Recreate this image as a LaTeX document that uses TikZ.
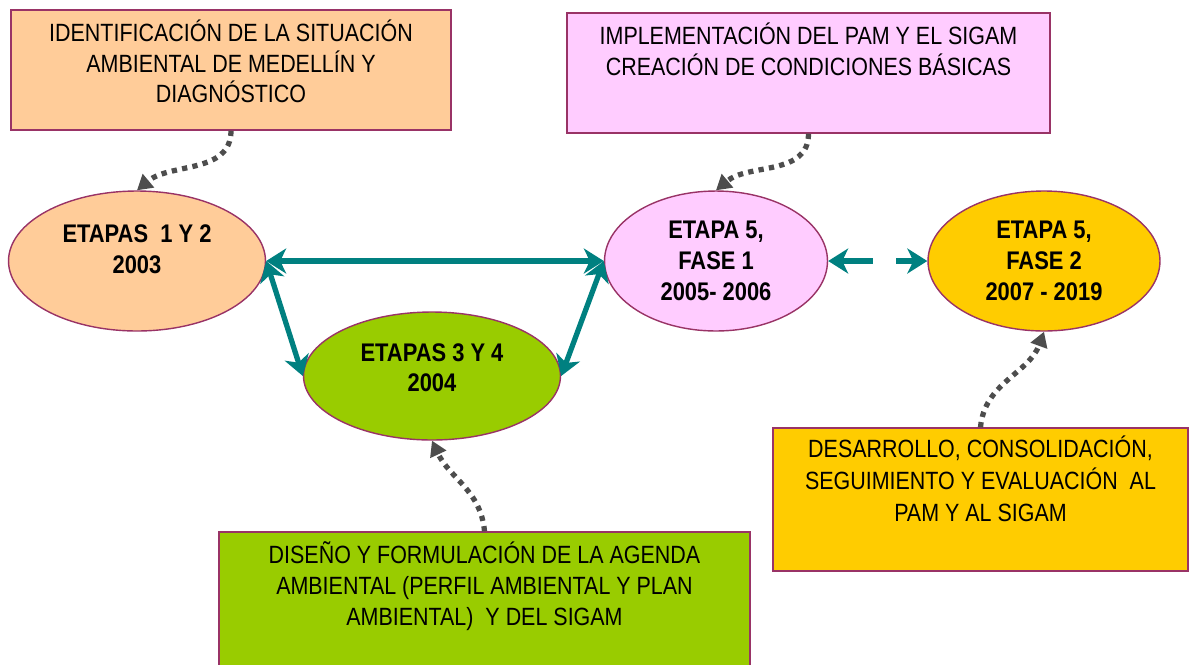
\documentclass[tikz,border=0pt]{standalone}
\usepackage{fontspec}
\setmainfont{Liberation Sans}[FakeStretch=0.86]
\newfontfamily\etapafont{Liberation Sans}[FakeStretch=0.86]
\usetikzlibrary{shapes.geometric,arrows.meta,positioning}

\definecolor{naranja}{HTML}{FFCC99}
\definecolor{rosado}{HTML}{FFCCFF}
\definecolor{verde}{HTML}{99CC00}
\definecolor{amarillo}{HTML}{FFCC00}
\definecolor{borde}{HTML}{993366}
\definecolor{flecha}{HTML}{008080}
\definecolor{gris}{HTML}{4D4D4D}

\tikzset{
  caja/.style={draw=borde, line width=0.8pt, rectangle, inner sep=0pt},
  textocaja/.style={font=\fontsize{14.2}{17.5}\selectfont, align=center, inner sep=0pt},
  etapa/.style={draw=borde, line width=0.8pt, ellipse, inner sep=0pt, align=center,
    font=\etapafont\fontsize{14.5}{17.6}\selectfont\bfseries},
  doble/.style={draw=flecha, line width=3pt,
    {Stealth[length=0.4cm, width=0.5cm, inset=0.12cm]}-{Stealth[length=0.4cm, width=0.5cm, inset=0.12cm]}},
  punteado/.style={draw=gris, line width=3pt, dash pattern=on 3pt off 3pt,
    -{Triangle[length=0.3cm, width=0.34cm]}}
}

\begin{document}
\begin{tikzpicture}[x=0.02cm, y=0.02cm]
  \useasboundingbox (0,0) rectangle (1190,-664);

  % cajas de texto
  \node[caja, fill=naranja, minimum width=8.8cm, minimum height=2.4cm] (diag) at (231,-70) {};
  \node[textocaja, below=0.2cm of diag.north] {IDENTIFICACIÓN DE LA SITUACIÓN\\AMBIENTAL DE MEDELLÍN Y\\DIAGNÓSTICO};

  \node[caja, fill=rosado, minimum width=9.66cm, minimum height=2.4cm] (impl) at (808.5,-73) {};
  \node[textocaja, below=0.2cm of impl.north] {IMPLEMENTACIÓN DEL PAM Y EL SIGAM\\CREACIÓN DE CONDICIONES BÁSICAS};

  \node[caja, fill=verde, minimum width=10.62cm, minimum height=2.96cm] (agenda) at (484.5,-606) {};
  \node[textocaja, below=0.2cm of agenda.north] {DISEÑO Y FORMULACIÓN DE LA AGENDA\\AMBIENTAL (PERFIL AMBIENTAL Y PLAN\\AMBIENTAL)\ \ Y DEL SIGAM};

  \node[caja, fill=amarillo, minimum width=8.3cm, minimum height=2.86cm] (desarrollo) at (980.5,-499.5) {};
  \node[textocaja, below=0.16cm of desarrollo.north, font=\fontsize{14.2}{18.2}\selectfont] {DESARROLLO, CONSOLIDACIÓN,\\SEGUIMIENTO Y EVALUACIÓN\ \ AL\\PAM Y AL SIGAM};

  % etapas
  \node[etapa, fill=naranja, minimum width=5.14cm, minimum height=2.8cm, text depth=13.6pt] (e12) at (137,-261) {ETAPAS\ \ 1 Y 2\\2003};
  \node[etapa, fill=verde, minimum width=5.14cm, minimum height=2.56cm, text depth=9.6pt] (e34) at (432,-376) {ETAPAS 3 Y 4\\2004};
  \node[etapa, fill=rosado, minimum width=4.46cm, minimum height=2.8cm] (e5f1) at (716,-261) {ETAPA 5,\\FASE 1\\2005- 2006};
  \node[etapa, fill=amarillo, minimum width=4.64cm, minimum height=2.8cm] (e5f2) at (1044,-261) {ETAPA 5,\\FASE 2\\2007 - 2019};

  % flechas entre etapas
  \draw[doble] (e12.east) -- (e5f1.west);
  \draw[doble] (e12.east) -- (e34.west);
  \draw[doble] (e34.east) -- (e5f1.west);
  \draw[doble, dash pattern=on 0.64cm off 0.46cm] (e5f1.east) -- (e5f2.west);

  % flechas punteadas desde las cajas
  \draw[punteado] (diag.south) to[out=-90, in=40] (e12.north);
  \draw[punteado] (impl.south) to[out=-90, in=40] (e5f1.north);
  \draw[punteado] (agenda.north) to[out=95, in=-65] (e34.south);
  \draw[punteado] (desarrollo.north) to[out=85, in=-110] (e5f2.south);
\end{tikzpicture}
\end{document}
